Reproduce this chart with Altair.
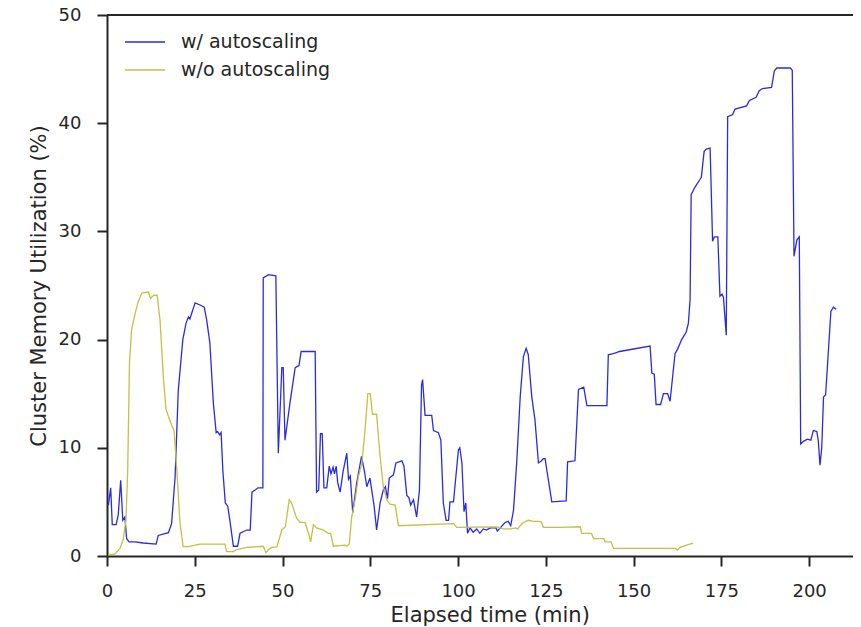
import altair as alt
import pandas as pd

# w/ autoscaling (blue): elapsed minutes, memory utilization %
auto_t = [0.4, 1.05, 1.5, 2.6, 3.2, 3.9, 4.5, 5.1, 5.6, 6.3, 8.0, 10.3, 14.0, 14.6, 17.5, 18.4, 19.4, 20.3,
          21.6, 22.5, 23.2, 23.6, 25.1, 26.5, 27.7, 28.4, 29.3, 30.3, 31.1, 31.5, 32.1, 32.5, 33.0, 33.7,
          34.4, 35.0, 36.0, 37.2, 37.9, 39.8, 40.8, 41.3, 42.2, 43.0, 44.4, 44.5, 46.0, 48.1, 48.8, 49.8,
          50.2, 50.7, 52.1, 53.6, 54.7, 55.3, 59.3, 59.7, 60.3, 60.8, 61.3, 61.8, 62.6, 63.3, 63.8, 64.4,
          64.8, 65.3, 65.7, 66.4, 67.3, 68.3, 68.8, 69.3, 70.0, 71.1, 72.5, 73.3, 74.0, 74.9, 76.1, 76.8,
          77.8, 78.7, 79.3, 79.9, 80.4, 81.6, 82.3, 84.0, 84.6, 85.4, 86.0, 86.5, 87.3, 88.2, 89.0, 89.6,
          89.9, 90.6, 92.5, 93.0, 94.4, 95.1, 95.8, 96.6, 97.3, 97.7, 98.7, 99.1, 100.1, 100.5, 101.1,
          101.7, 102.2, 102.7, 103.4, 104.3, 105.3, 106.2, 107.2, 108.1, 109.1, 110.8, 111.2, 112.0,
          113.4, 114.3, 115.0, 115.8, 116.7, 117.7, 118.6, 119.4, 120.0, 121.0, 121.9, 122.9, 123.8,
          124.3, 124.8, 125.3, 126.7, 130.8, 131.2, 133.3, 134.3, 135.8, 136.7, 142.4, 142.8, 144.2,
          145.1, 146.0, 154.7, 155.2, 155.9, 156.4, 157.7, 158.5, 159.7, 160.4, 161.8, 162.5, 163.7,
          165.0, 165.6, 166.1, 166.4, 167.5, 168.8, 169.3, 170.1, 170.7, 171.8, 172.5, 173.0, 174.0,
          174.6, 175.2, 175.6, 176.4, 176.8, 178.2, 178.9, 182.2, 183.0, 184.9, 185.8, 186.7, 189.3,
          190.1, 190.8, 194.6, 195.2, 195.7, 196.5, 197.2, 197.6, 198.4, 199.5, 200.5, 201.2, 202.2,
          202.6, 203.1, 203.6, 204.1, 204.7, 205.5, 206.2, 206.9, 207.7]
auto_v = [4.7, 6.3, 2.9, 2.9, 3.8, 7.0, 3.3, 3.6, 1.6, 1.3, 1.3, 1.2, 1.1, 1.9, 2.15, 3.0, 7.3, 15.3,
          20.0, 21.5, 22.1, 21.9, 23.4, 23.2, 23.0, 21.8, 19.7, 14.1, 11.4, 11.5, 11.2, 11.4, 7.9, 4.9,
          4.6, 3.3, 0.9, 0.9, 2.1, 2.4, 2.4, 5.9, 6.1, 6.3, 6.3, 25.7, 26.0, 25.9, 9.5, 17.4,
          17.4, 10.7, 14.1, 17.4, 17.6, 18.9, 18.9, 5.9, 6.1, 11.3, 11.3, 6.3, 6.3, 8.3, 7.6, 8.2,
          7.6, 8.3, 6.8, 5.9, 7.9, 9.5, 7.1, 7.4, 4.0, 6.7, 9.2, 7.9, 6.4, 7.2, 4.6, 2.4,
          4.9, 6.1, 6.4, 5.3, 7.2, 7.5, 8.6, 8.8, 8.3, 5.6, 5.4, 4.7, 5.2, 3.6, 6.1, 15.8,
          16.3, 13.0, 13.0, 11.6, 11.4, 10.7, 4.9, 3.3, 3.3, 5.0, 5.0, 6.4, 9.8, 10.0, 8.6,
          4.1, 4.9, 2.1, 2.6, 2.2, 2.5, 2.1, 2.5, 2.4, 2.6, 2.6, 2.3, 2.6,
          3.1, 3.2, 2.8, 4.25, 8.6, 14.7, 18.4, 19.2, 18.6, 14.7, 12.6, 8.6, 8.8,
          9.0, 9.0, 7.9, 5.0, 5.1, 8.7, 8.8, 15.4, 15.6, 13.9, 13.9, 18.6, 18.7,
          18.8, 18.9, 19.4, 16.9, 16.8, 14.0, 14.0, 15.0, 15.0, 14.3, 18.7, 19.1, 20.0,
          20.7, 21.5, 23.7, 33.4, 34.1, 34.75, 35.0, 37.4, 37.6, 37.7, 29.1, 29.5, 29.5,
          24.0, 24.2, 23.9, 20.4, 40.6, 40.8, 41.3, 41.6, 42.1, 42.4, 43.0, 43.2, 43.3,
          44.85, 45.1, 45.1, 44.9, 27.7, 29.2, 29.5, 10.35, 10.6, 10.8, 10.7, 11.6, 11.5,
          10.7, 8.4, 10.0, 14.7, 14.9, 19.0, 22.6, 23.0, 22.8]

# w/o autoscaling (olive)
noauto_t = [0.4, 2.3, 3.7, 4.6, 5.4, 5.9, 6.4, 7.0, 8.0, 8.9, 9.9, 11.8, 12.4, 13.3, 14.3, 15.1, 16.1,
            16.8, 17.5, 18.4, 19.1, 19.9, 20.8, 21.7, 23.1, 26.5, 33.6, 34.1, 36.0, 37.0, 39.8, 44.5,
            45.3, 46.0, 47.0, 48.4, 49.8, 50.8, 51.9, 52.6, 54.0, 55.0, 56.4, 57.4, 58.0, 58.8, 59.7,
            61.6, 63.0, 63.7, 64.5, 67.8, 68.3, 69.0, 69.7, 70.7, 71.6, 72.6, 73.5, 74.3, 75.0, 75.6,
            76.8, 77.8, 78.7, 79.7, 80.6, 82.1, 83.0, 98.7, 99.6, 111.0, 113.0, 115.0, 116.4, 117.0,
            117.7, 118.6, 120.0, 121.4, 122.4, 123.3, 123.8, 124.3, 129.0, 134.8, 135.2, 138.0, 138.6,
            141.5, 141.9, 143.6, 144.3, 161.9, 162.5, 163.2, 165.1, 167.0]
noauto_v = [0.1, 0.2, 0.7, 1.5, 3.3, 7.9, 17.8, 20.9, 22.4, 23.5, 24.3, 24.4, 23.8, 24.1, 24.1, 21.8, 16.3,
            13.6, 12.9, 12.1, 11.6, 7.9, 3.0, 0.86, 0.86, 1.1, 1.1, 0.4, 0.4, 0.6, 0.8, 0.9,
            0.3, 0.6, 0.8, 0.85, 2.4, 2.7, 5.2, 4.9, 3.5, 3.1, 3.1, 2.1, 1.3, 2.9, 2.6,
            2.4, 2.1, 2.1, 0.9, 1.0, 0.9, 1.1, 3.6, 5.2, 7.3, 8.6, 11.6, 15.0, 15.0, 13.1,
            13.1, 9.2, 6.4, 5.2, 4.8, 4.7, 2.8, 3.0, 2.65, 2.7, 2.5, 2.5, 2.6, 2.5,
            2.8, 3.1, 3.3, 3.2, 3.2, 3.2, 3.1, 2.65, 2.65, 2.7, 2.1, 2.1, 1.6,
            1.6, 1.3, 1.3, 0.7, 0.7, 0.55, 0.8, 1.0, 1.2]

series_names = ["w/ autoscaling", "w/o autoscaling"]
series_colors = ["#2a2ae6", "#c2c244"]
x_ticks = [0, 25, 50, 75, 100, 125, 150, 175, 200]
y_ticks = [0, 10, 20, 30, 40, 50]

df = pd.concat([
    pd.DataFrame({"t": auto_t, "v": auto_v, "series": series_names[0]}),
    pd.DataFrame({"t": noauto_t, "v": noauto_v, "series": series_names[1]}),
], ignore_index=True)

FONT = "DejaVu Sans"
DARK = "#262626"

xscale = alt.Scale(domain=[0, 212.5], nice=False, zero=False)
yscale = alt.Scale(domain=[0, 50], nice=False)

lines = alt.Chart(df).mark_line(strokeWidth=1.3).encode(
    x=alt.X("t:Q", scale=xscale,
            axis=alt.Axis(title="Elapsed time (min)", values=x_ticks, titleX=382.7, titleY=65.5,
                          titleBaseline="alphabetic", titleAlign="center")),
    y=alt.Y("v:Q", scale=yscale,
            axis=alt.Axis(title="Cluster Memory Utilization (%)", values=y_ticks, titleX=-62,
                          titleBaseline="alphabetic")),
    color=alt.Color("series:N",
                    scale=alt.Scale(domain=series_names, range=series_colors),
                    legend=alt.Legend(title=None, orient="none", legendX=17, legendY=13,
                                      symbolType="stroke", symbolSize=1600, symbolStrokeWidth=1.5,
                                      labelFontSize=19, labelFont=FONT, labelColor=DARK,
                                      labelOffset=15, padding=0, rowPadding=0, clipHeight=28)),
)

top = alt.Chart(pd.DataFrame({"v": [50]})).mark_rule(color=DARK, strokeWidth=2).encode(
    y=alt.Y("v:Q", scale=yscale)
)

chart = alt.layer(lines, top).properties(
    width=746, height=541,
    autosize=alt.AutoSizeParams(type="none"),
    padding={"left": 99, "top": 7, "right": 0, "bottom": 70},
).configure_view(stroke=None).configure_axis(
    grid=False,
    domainColor=DARK, domainWidth=2,
    tickColor=DARK, tickWidth=2, tickSize=10,
    labelFont=FONT, labelFontSize=18, labelColor=DARK, labelPadding=16,
    titleFont=FONT, titleFontSize=21, titleFontWeight="normal", titleColor=DARK,
    labelFlush=False,
)

chart.save("out.html", embed_options={"renderer": "svg", "actions": False})
